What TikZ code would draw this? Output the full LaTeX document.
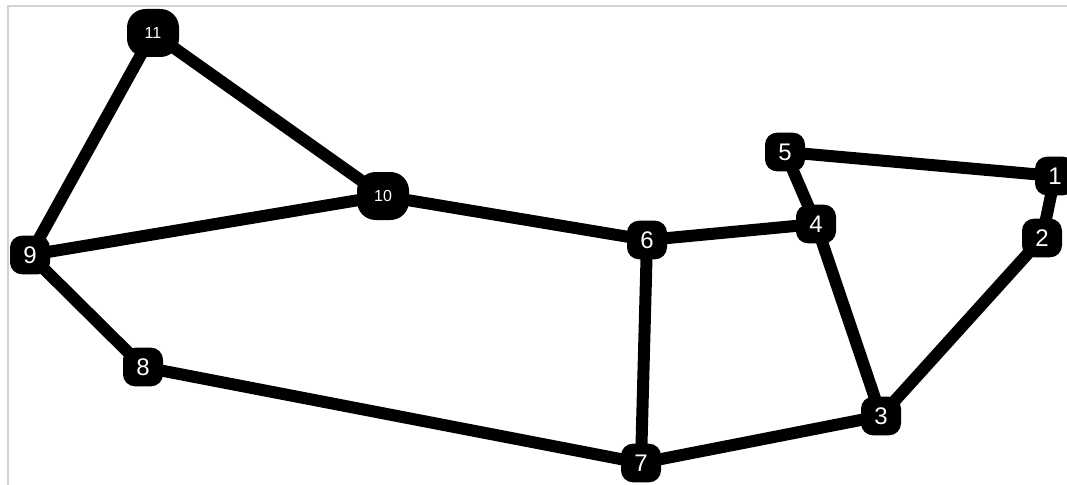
\documentclass[tikz,border=0pt]{standalone}
\usepackage{fontspec}
\setmainfont{Liberation Sans}
\usetikzlibrary{backgrounds}
\begin{document}
\begin{tikzpicture}[x=0.75pt,y=-0.75pt,
  vert/.style={fill=black,rounded corners=9pt,minimum width=30pt,minimum height=29pt,inner sep=0pt,text=white,font=\fontsize{18}{18}\selectfont},
  bigvert/.style={vert,minimum width=39pt,minimum height=36pt,rounded corners=14pt,font=\fontsize{12}{12}\selectfont},
  link/.style={line width=9pt,black}]
\useasboundingbox (0,0) rectangle (1067,485);
\node[bigvert] (n11) at (153,33) {11};
\node[bigvert] (n10) at (383,196) {10};
\node[vert] (n1) at (1055,176) {1};
\node[vert] (n2) at (1042,238) {2};
\node[vert] (n3) at (881,416) {3};
\node[vert] (n4) at (816,224) {4};
\node[vert] (n5) at (785,152) {5};
\node[vert] (n6) at (647,240) {6};
\node[vert] (n7) at (641,463) {7};
\node[vert] (n8) at (143,367) {8};
\node[vert] (n9) at (30,255) {9};
\begin{scope}[on background layer]
\fill[white] (0,0) rectangle (1067,485);
\draw[gray!35,line width=1pt] (8,485) -- (8,6) -- (1067,6);
\foreach \a/\b in {n11/n9,n11/n10,n10/n9,n10/n6,n9/n8,n8/n7,n7/n6,n7/n3,n6/n4,n4/n5,n4/n3,n5/n1,n1/n2,n2/n3}
  \draw[link] (\a.center) -- (\b.center);
\end{scope}
\end{tikzpicture}
\end{document}
